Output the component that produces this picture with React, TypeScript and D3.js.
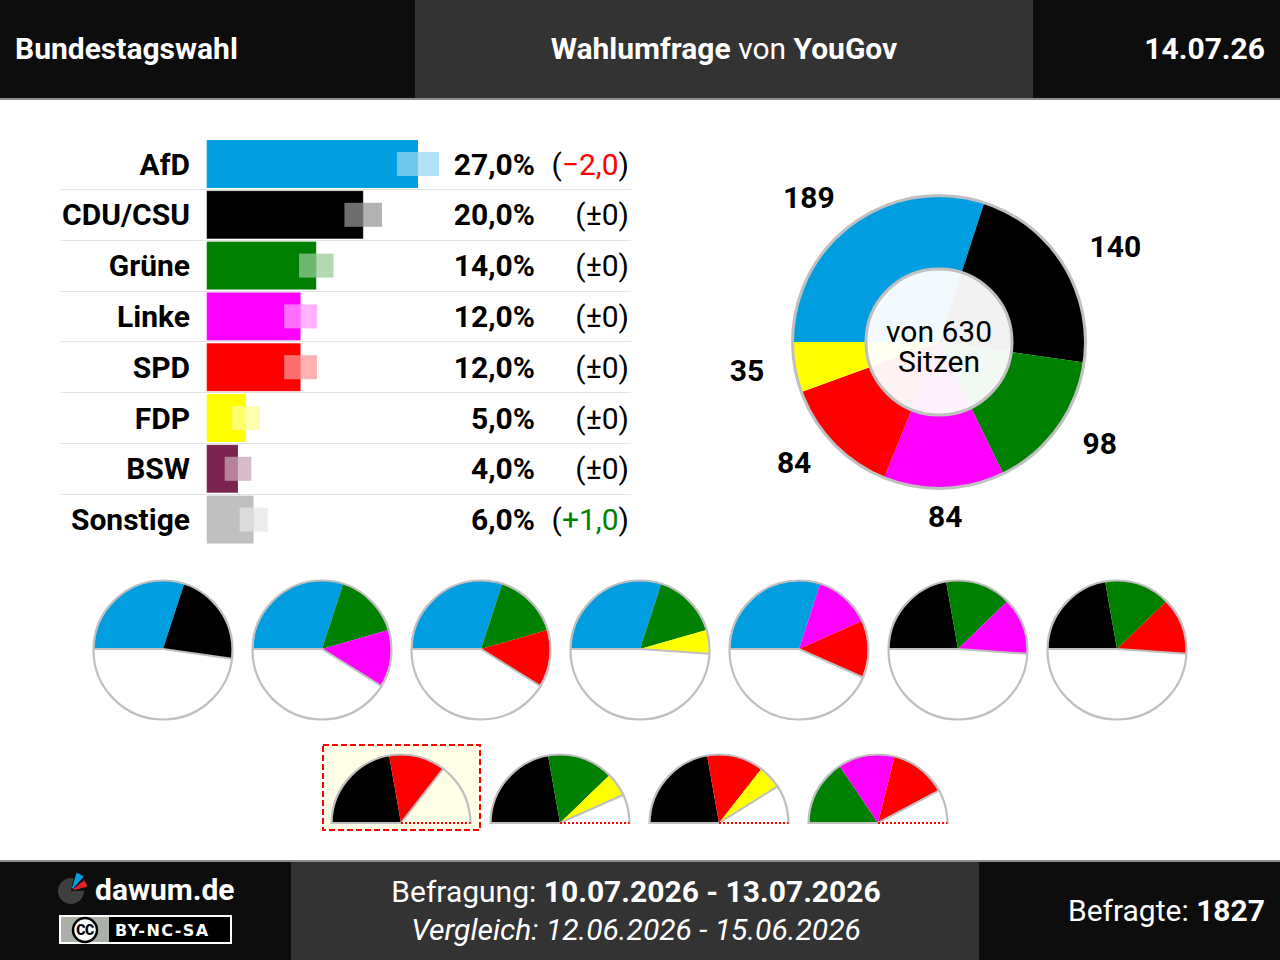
import React from 'react';
import * as d3 from 'd3';

const parties = ['AfD', 'CDU/CSU', 'Grüne', 'Linke', 'SPD', 'FDP', 'BSW', 'Sonstige'];
const colors = ['#009ee0', '#000000', '#008000', '#ff00ff', '#ff0000', '#ffff00', '#7b2450', '#c0c0c0'];
const percents = [27, 20, 14, 12, 12, 5, 4, 6];
const margins = [2.7, 2.4, 2.2, 2.1, 2.1, 1.8, 1.7, 1.8];
const changes = ['−2,0', '±0', '±0', '±0', '±0', '±0', '±0', '+1,0'];
const changeColors = ['#ff0000', '#000', '#000', '#000', '#000', '#000', '#000', '#008000'];
const seatParties = ['AfD', 'CDU/CSU', 'Grüne', 'Linke', 'SPD', 'FDP'];
const seats = [189, 140, 98, 84, 84, 35];
const totalSeats = 630;
const majorityCoalitions = [
  ['AfD', 'CDU/CSU'], ['AfD', 'Grüne', 'Linke'], ['AfD', 'Grüne', 'SPD'], ['AfD', 'Grüne', 'FDP'],
  ['AfD', 'Linke', 'SPD'], ['CDU/CSU', 'Grüne', 'Linke'], ['CDU/CSU', 'Grüne', 'SPD'],
];
const minorityCoalitions = [
  ['CDU/CSU', 'SPD'], ['CDU/CSU', 'Grüne', 'FDP'], ['CDU/CSU', 'SPD', 'FDP'], ['Grüne', 'Linke', 'SPD'],
];
const highlighted = 0;

const FONT = 'Roboto, sans-serif';
const GRID = '#e3e3e3';
const RIM = '#c0c0c0';

const angle = d3.scaleLinear().domain([0, totalSeats]).range([-Math.PI / 2, (3 * Math.PI) / 2]);
const xBar = d3.scaleLinear().domain([0, 27]).range([206.7, 418]);
const yRow = d3.scalePoint<string>().domain(parties).range([140, 495.6]);
const arc = d3.arc<any>();

function Slices({ names, r, inner = 0 }: { names: string[]; r: number; inner?: number }) {
  let acc = 0;
  return (
    <>
      {names.map((n) => {
        const s = seats[seatParties.indexOf(n)];
        const a0 = angle(acc);
        acc += s;
        const d = arc({ innerRadius: inner, outerRadius: r, startAngle: a0, endAngle: angle(acc) })!;
        return <path key={n} d={d} fill={colors[parties.indexOf(n)]} />;
      })}
    </>
  );
}

function Sum(names: string[]) {
  return d3.sum(names, (n) => seats[seatParties.indexOf(n)]);
}

function FullPie({ names, cx, cy, r }: { names: string[]; cx: number; cy: number; r: number }) {
  const end = angle(Sum(names));
  return (
    <g transform={`translate(${cx},${cy})`}>
      <circle r={r} fill="#fff" />
      <g transform="translate(0,-1)">
        <Slices names={names} r={r - 0.5} />
        <path
          d={`M${-r},0L0,0L${r * Math.sin(end)},${-r * Math.cos(end)}`}
          fill="none" stroke={RIM} strokeWidth={2} />
      </g>
      <circle r={r} fill="none" stroke={RIM} strokeWidth={2.2} />
    </g>
  );
}

function HalfPie({ names, cx, cy, r, hi }: { names: string[]; cx: number; cy: number; r: number; hi: boolean }) {
  const end = angle(Sum(names));
  const half = arc({ innerRadius: 0, outerRadius: r, startAngle: -Math.PI / 2, endAngle: Math.PI / 2 })!;
  const rim = `M${-r},0A${r},${r} 0 0 1 ${r},0`;
  return (
    <g transform={`translate(${cx},${cy})`}>
      {hi && <rect x={-78} y={-78} width={157} height={85} fill="#ffffe8" stroke="#ff0000" strokeWidth={2} strokeDasharray="6 3" />}
      {!hi && <path d={half} fill="#fff" />}
      <Slices names={names} r={r - 0.5} />
      <path
        d={`M${-r},0L0,0L${r * Math.sin(end)},${-r * Math.cos(end)}`}
        fill="none" stroke={RIM} strokeWidth={2} />
      <path d={rim} transform="translate(0,1)" fill="none" stroke={RIM} strokeWidth={2.2} />
      <line x1={0} x2={r} y1={0} y2={0} stroke="#ff0000" strokeWidth={2} strokeDasharray="2 2" />
    </g>
  );
}

function Donut() {
  const cx = 939, cy = 342, r = 146.5, inner = 73;
  let acc = 0;
  const labels = seats.map((s) => {
    const mid = angle(acc + s / 2);
    acc += s;
    const sin = Math.sin(mid), cos = Math.cos(mid);
    const anchor = sin > 0.2 ? 'start' : sin < -0.2 ? 'end' : 'middle';
    return { s, x: cx + 177.5 * sin, y: cy - 176.5 * cos - 2, anchor };
  });
  return (
    <g>
      <g transform={`translate(${cx},${cy})`}>
        <Slices names={seatParties} r={r} />
        <circle r={r} fill="none" stroke={RIM} strokeWidth={3} />
        <circle r={inner} fill="#fff" fillOpacity={0.95} stroke={RIM} strokeWidth={3} />
        <text textAnchor="middle" fontSize={30} fill="#000">
          <tspan x={0} y={0}>von {totalSeats}</tspan>
          <tspan x={0} dy={30}>Sitzen</tspan>
        </text>
      </g>
      {labels.map((l, i) => (
        <text key={i} x={l.x} y={l.y} dy="0.35em" textAnchor={l.anchor as any} fontSize={30} fontWeight={700}>{l.s}</text>
      ))}
    </g>
  );
}

function Bars() {
  return (
    <g>
      {parties.map((p, i) => {
        const y = yRow(p)!;
        const v = percents[i];
        const base = y + 34.5;
        const sep = Math.floor(y + 49.4) + 0.5;
        return (
          <g key={p}>
            {i < parties.length - 1 && <line x1={61} x2={631} y1={sep} y2={sep} stroke={GRID} strokeWidth={1} />}
            <rect x={xBar(0)} y={y} width={xBar(v) - xBar(0)} height={48} fill={colors[i]} stroke="#fff" strokeOpacity={0.15} />
            <rect x={xBar(v - margins[i])} y={y + 12} width={xBar(v) - xBar(v - margins[i])} height={24} fill="#fff" fillOpacity={0.43} />
            <rect x={xBar(v)} y={y + 12} width={xBar(v + margins[i]) - xBar(v)} height={24} fill={colors[i]} fillOpacity={0.3} />
            <text x={190} y={base} textAnchor="end" fontSize={30} fontWeight={700}>{p}</text>
            <text x={535} y={base} textAnchor="end" fontSize={30} fontWeight={700}>{v},0%</text>
            <text x={629} y={base} textAnchor="end" fontSize={30}>
              (<tspan fill={changeColors[i]}>{changes[i]}</tspan>)
            </text>
          </g>
        );
      })}
    </g>
  );
}

function Header() {
  return (
    <g>
      <rect width={1280} height={98} fill="#0d0d0d" />
      <rect x={415} width={618} height={98} fill="#333" />
      <rect y={98} width={1280} height={2} fill="#8c8c8c" />
      <text x={15} y={59} fill="#fff" fontSize={30} fontWeight={700}>Bundestagswahl</text>
      <text x={724} y={59} fill="#fff" fontSize={30} textAnchor="middle">
        <tspan fontWeight={700}>Wahlumfrage</tspan> von <tspan fontWeight={700}>YouGov</tspan>
      </text>
      <text x={1265} y={59} fill="#fff" fontSize={30} fontWeight={700} textAnchor="end">14.07.26</text>
    </g>
  );
}

function Footer() {
  const logoArc = arc({ innerRadius: 0, outerRadius: 13, startAngle: 1.55, endAngle: 2 * Math.PI + 0.2 })!;
  const blue = arc({ innerRadius: 3, outerRadius: 19, startAngle: 0.3, endAngle: 0.72 })!;
  const red = arc({ innerRadius: 3, outerRadius: 17, startAngle: 0.88, endAngle: 1.3 })!;
  return (
    <g>
      <rect y={860} width={1280} height={2} fill="#8c8c8c" />
      <rect y={862} width={1280} height={98} fill="#0d0d0d" />
      <rect x={291} y={862} width={688} height={98} fill="#333" />
      <g transform="translate(71,891)">
        <path d={logoArc} fill="#3f3f3f" />
        <path d={blue} fill="#009ee0" />
        <path d={red} fill="#e0202a" />
      </g>
      <text x={95} y={900} fill="#fff" fontSize={30} fontWeight={700}>dawum.de</text>
      <rect x={60} y={916} width={171} height={27} fill="#000" stroke="#fff" strokeWidth={2} />
      <rect x={61} y={917} width={48} height={25} fill="#aab0a8" />
      <circle cx={85} cy={930} r={12} fill="#fff" stroke="#000" strokeWidth={2.5} />
      <text x={85} y={935} textAnchor="middle" fontSize={14} fontWeight={900} fill="#000" letterSpacing={-0.5}>CC</text>
      <text x={115} y={936} fill="#fff" fontSize={16} fontWeight={700} letterSpacing={1.4} fontFamily="'DejaVu Sans', sans-serif">BY-NC-SA</text>
      <text x={636} y={902} fill="#fff" fontSize={30} textAnchor="middle">
        Befragung: <tspan fontWeight={700}>10.07.2026 - 13.07.2026</tspan>
      </text>
      <text x={636} y={940} fill="#fff" fontSize={30} fontStyle="italic" textAnchor="middle">Vergleich: 12.06.2026 - 15.06.2026</text>
      <text x={1265} y={921} fill="#fff" fontSize={30} textAnchor="end">
        Befragte: <tspan fontWeight={700}>1827</tspan>
      </text>
    </g>
  );
}

const topX = d3.scalePoint<number>().domain(d3.range(7)).range([163, 1117]);
const bottomX = d3.scalePoint<number>().domain(d3.range(4)).range([401, 878]);

export default function App() {
  return (
    <svg width={1280} height={960} style={{ position: 'absolute', left: 0, top: 0, background: '#fff' }} fontFamily={FONT}>
      <Header />
      <Bars />
      <Donut />
      {majorityCoalitions.map((c, i) => <FullPie key={i} names={c} cx={topX(i)!} cy={650} r={69.5} />)}
      {minorityCoalitions.map((c, i) => <HalfPie key={i} names={c} cx={bottomX(i)!} cy={823} r={69.5} hi={i === highlighted} />)}
      <Footer />
    </svg>
  );
}
